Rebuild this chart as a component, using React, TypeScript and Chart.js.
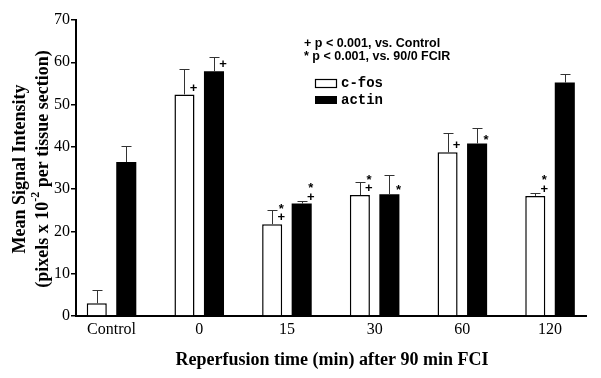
import React, { useEffect, useRef } from "react";
import { Chart, registerables } from "chart.js";

Chart.register(...registerables);

const categories = ["Control", "0", "15", "30", "60", "120"];
const cfosValues = [3.0, 52.4, 21.7, 28.6, 38.7, 28.4];
const cfosErrors = [3.2, 6.0, 3.4, 3.1, 4.6, 0.8];
const actinValues = [36.4, 57.9, 26.6, 28.8, 40.8, 55.2];
const actinErrors = [3.8, 3.3, 0.5, 4.5, 3.6, 2.0];
const cfosMarks = ["", "+", "*+", "*+", "+", "*+"];
const actinMarks = ["", "+", "*+", "*", "*", ""];
const yTickValues = [0, 10, 20, 30, 40, 50, 60, 70];
const noteLines = ["+ p < 0.001, vs. Control", "* p < 0.001, vs. 90/0 FCIR"];
const seriesNames = ["c-fos", "actin"];

const SERIF = '"Liberation Serif", "Times New Roman", serif';
const SANS = '"Liberation Sans", Arial, sans-serif';
const MONO = '"Liberation Mono", "Courier New", monospace';

const extrasPlugin = {
  id: "extras",
  afterDatasetsDraw(chart: any) {
    const ctx = chart.ctx;
    const yScale = chart.scales.y;
    const errs = [cfosErrors, actinErrors];
    const vals = [cfosValues, actinValues];
    const marks = [cfosMarks, actinMarks];
    ctx.save();
    for (let d = 0; d < 2; d++) {
      const meta = chart.getDatasetMeta(d);
      meta.data.forEach((el: any, i: number) => {
        const x = Math.round(el.x) + 0.5;
        const top = el.y;
        const ey = Math.round(yScale.getPixelForValue(vals[d][i] + errs[d][i])) + 0.5;
        ctx.strokeStyle = "#333";
        ctx.lineWidth = 1;
        ctx.beginPath();
        ctx.moveTo(x, top);
        ctx.lineTo(x, ey);
        ctx.moveTo(x - 5, ey);
        ctx.lineTo(x + 5, ey);
        ctx.stroke();
        const m = marks[d][i];
        const right = el.x + el.width / 2 - 1;
        ctx.fillStyle = "#000";
        ctx.font = "bold 13px " + SANS;
        ctx.textAlign = "center";
        ctx.textBaseline = "middle";
        for (let k = 0; k < m.length; k++) {
          const ch = m[m.length - 1 - k];
          let y = top - 6.5 - k * 11.5;
          if (ch === "*") y += 3;
          ctx.fillText(ch, right, y);
        }
      });
    }
    ctx.restore();
  },
  afterDraw(chart: any) {
    const ctx = chart.ctx;
    ctx.save();
    ctx.fillStyle = "#000";
    ctx.translate(20, 169);
    ctx.rotate(-Math.PI / 2);
    ctx.textBaseline = "middle";
    ctx.textAlign = "center";
    ctx.font = "bold 18px " + SERIF;
    ctx.fillText("Mean Signal Intensity", 0, 0);
    const p1 = "(pixels x 10";
    const sup = "-2";
    const p2 = " per tissue section)";
    const bigFont = "bold 18px " + SERIF;
    const supFont = "bold 12px " + SERIF;
    ctx.font = bigFont;
    const w1 = ctx.measureText(p1).width;
    const w3 = ctx.measureText(p2).width;
    ctx.font = supFont;
    const w2 = ctx.measureText(sup).width;
    let sx = -(w1 + w2 + w3) / 2;
    const ly = 23;
    ctx.textAlign = "left";
    ctx.font = bigFont;
    ctx.fillText(p1, sx, ly);
    sx += w1;
    ctx.font = supFont;
    ctx.fillText(sup, sx, ly - 7);
    sx += w2;
    ctx.font = bigFont;
    ctx.fillText(p2, sx, ly);
    ctx.restore();

    ctx.save();
    ctx.fillStyle = "#000";
    ctx.font = "bold 18px " + SERIF;
    ctx.textAlign = "center";
    ctx.textBaseline = "middle";
    ctx.fillText("Reperfusion time (min) after 90 min FCI", 332, 360);
    ctx.font = "bold 12.5px " + SANS;
    ctx.textAlign = "left";
    ctx.fillText(noteLines[0], 304, 44);
    ctx.fillText(noteLines[1], 304, 57);
    ctx.fillStyle = "#fff";
    ctx.strokeStyle = "#000";
    ctx.lineWidth = 1.2;
    ctx.fillRect(315, 79, 22, 8);
    ctx.strokeRect(315.5, 79.5, 21, 8);
    ctx.fillStyle = "#000";
    ctx.fillRect(315, 96, 22, 8);
    ctx.font = "bold 14px " + MONO;
    ctx.fillText(seriesNames[0], 341, 83.5);
    ctx.fillText(seriesNames[1], 341, 100.5);
    ctx.restore();
  },
};

export default function App() {
  const ref = useRef<HTMLCanvasElement | null>(null);
  useEffect(() => {
    if (!ref.current) return;
    const chart = new Chart(ref.current, {
      type: "bar",
      data: {
        datasets: [
          {
            label: seriesNames[0],
            data: cfosValues.map((v, i) => ({ x: i, y: v })),
            backgroundColor: "#fff",
            borderColor: "#000",
            borderWidth: 1.5,
            borderSkipped: "bottom",
          },
          {
            label: seriesNames[1],
            data: actinValues.map((v, i) => ({ x: i, y: v })),
            backgroundColor: "#000",
            borderColor: "#000",
            borderWidth: 0,
          },
        ],
      },
      options: {
        animation: false,
        responsive: false,
        devicePixelRatio: 1,
        categoryPercentage: 0.673,
        barPercentage: 0.68,
        layout: { padding: { top: 20, right: 15, left: 0, bottom: 0 } },
        plugins: { legend: { display: false }, tooltip: { enabled: false } },
        scales: {
          x: {
            type: "linear",
            offset: false,
            min: -0.405,
            max: 5.41,
            grid: { display: false, drawTicks: false, tickLength: 0, offset: false },
            border: { display: true, color: "#000", width: 2 },
            afterBuildTicks: (s: any) => {
              s.ticks = categories.map((_, i) => ({ value: i }));
            },
            afterFit: (s: any) => {
              s.height = 62;
            },
            ticks: {
              autoSkip: false,
              maxRotation: 0,
              padding: 4,
              color: "#000",
              font: { family: SERIF, size: 16 },
              callback: (v: any) => categories[v as number] ?? "",
            },
          },
          y: {
            min: 0,
            max: 70,
            afterBuildTicks: (s: any) => {
              s.ticks = yTickValues.map((v) => ({ value: v }));
            },
            afterFit: (s: any) => {
              s.width = 76;
            },
            grid: {
              display: true,
              drawOnChartArea: false,
              drawTicks: true,
              tickLength: 5,
              color: "#000",
              lineWidth: 1.5,
            },
            border: { display: true, color: "#000", width: 2 },
            ticks: {
              padding: 1,
              color: "#000",
              font: { family: SERIF, size: 16 },
            },
          },
        },
      } as any,
      plugins: [extrasPlugin],
    });
    return () => chart.destroy();
  }, []);
  return (
    <div style={{ position: "fixed", left: 0, top: 0, width: 601, height: 378, background: "#fff" }}>
      <canvas ref={ref} width={601} height={378} />
    </div>
  );
}
